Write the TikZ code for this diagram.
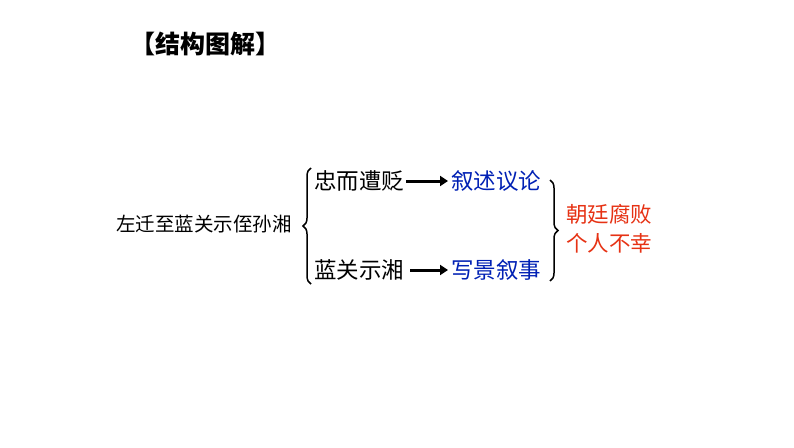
\documentclass[tikz,border=0pt]{standalone}
\usepackage{fontspec}
\newfontfamily\cjk{Noto Sans CJK SC}
\usetikzlibrary{decorations.pathreplacing,arrows.meta}
\begin{document}
\begin{tikzpicture}[x=1pt,y=-1pt,
  txt/.style={font=\cjk\fontsize{22.5}{24}\selectfont,inner sep=0pt},
  arr/.style={line width=3pt,-{Triangle[length=8pt,width=10pt]}},
  br/.style={decorate,decoration={brace,amplitude=8pt},line width=1.5pt}]
\useasboundingbox (0,0) rectangle (794,447);
\node[txt,font=\cjk\bfseries\fontsize{25}{27}\selectfont] (t) at (205,44) {【结构图解】};
\node[txt,font=\cjk\fontsize{19.5}{21}\selectfont,anchor=east] (l) at (292,224) {左迁至蓝关示侄孙湘};
\node[txt,anchor=west] (a) at (314,181) {忠而遭贬};
\node[txt,anchor=west] (b) at (314,270) {蓝关示湘};
\node[txt,anchor=west,text={rgb,255:red,0;green,32;blue,180}] (c) at (451,181) {叙述议论};
\node[txt,anchor=west,text={rgb,255:red,0;green,32;blue,180}] (d) at (451,270) {写景叙事};
\node[txt,anchor=west,text={rgb,255:red,230;green,50;blue,20},font=\cjk\fontsize{21.5}{23}\selectfont] (e) at (566,214) {朝廷腐败};
\node[txt,anchor=west,text={rgb,255:red,230;green,50;blue,20},font=\cjk\fontsize{21.5}{23}\selectfont] (f) at (566,243) {个人不幸};
\draw[arr] (a.east)++(2,0) coordinate (a1) -- (c.west -| 448,0) ;
\draw[arr] (b.east)++(6,0) coordinate (b1) -- (d.west -| 448,0);
\coordinate (lb1) at (311,168); \coordinate (lb2) at (311,284);
\draw[br] (lb2) -- (lb1);
\coordinate (rb1) at (550,180); \coordinate (rb2) at (550,281);
\draw[br] (rb1) -- (rb2);
\end{tikzpicture}
\end{document}
